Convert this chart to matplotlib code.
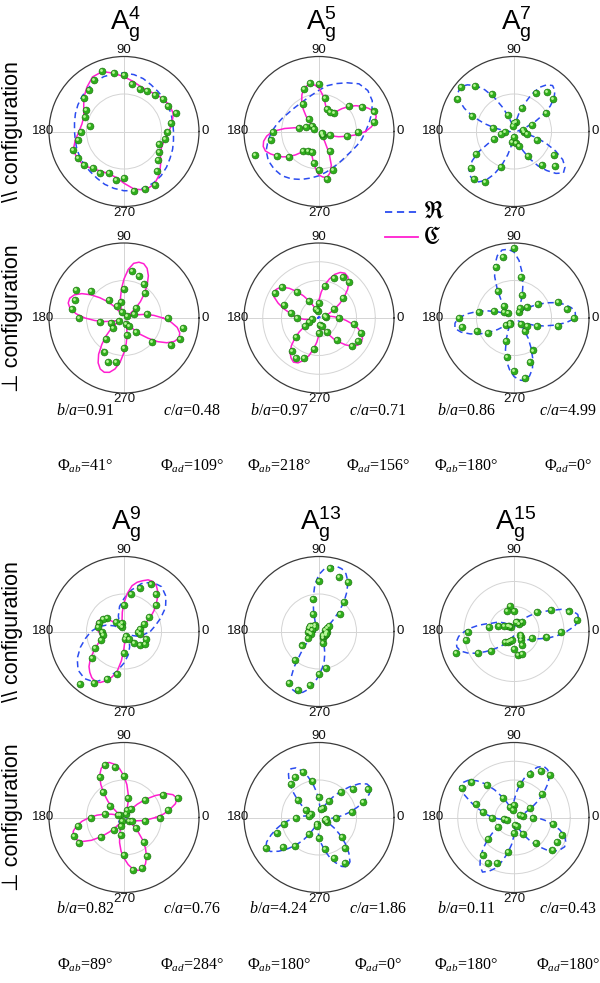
import matplotlib
matplotlib.use('Agg')
import matplotlib.pyplot as plt
import numpy as np
from matplotlib.lines import Line2D
from matplotlib.transforms import ScaledTranslation

plt.rcParams['mathtext.fontset'] = 'custom'
plt.rcParams['mathtext.rm'] = 'Liberation Serif'
plt.rcParams['mathtext.it'] = 'Liberation Serif:italic'
plt.rcParams['mathtext.bf'] = 'Liberation Serif:bold'
plt.rcParams['font.family'] = ['Liberation Sans', 'DejaVu Sans']

# ---------------- data ----------------
ANGLES_10 = list(range(0, 360, 10))         # measured points and coarse curve readings (deg)
ANGLES_5 = list(range(0, 360, 5))           # finer curve readings (deg)
TICK_ANGLES = [0, 90, 180, 270]
TICK_LABELS = ['0', '90', '180', '270']
MODE_LABELS = ['4', '5', '7', '9', '13', '15']
ROW_LABELS = ['\\\\ configuration', '\u22a5 configuration']
LEGEND_LABELS = [r'$\mathfrak{R}$', r'$\mathfrak{C}$']
B_OVER_A = [0.91, 0.97, 0.86, 0.82, 4.24, 0.11]
C_OVER_A = [0.48, 0.71, 4.99, 0.76, 1.86, 0.43]
PHI_AB = [41, 218, 180, 89, 180, 180]
PHI_AD = [109, 156, 0, 284, 0, 180]

# ---- A_g^4, parallel (10 deg) ----
A4_PAR_REAL = [0.66, 0.66, 0.67, 0.68, 0.69, 0.70, 0.72, 0.75, 0.77, 0.78, 0.78, 0.78, 0.77, 0.75, 0.73, 0.71, 0.69, 0.67,
               0.66, 0.66, 0.67, 0.68, 0.69, 0.70, 0.72, 0.75, 0.77, 0.79, 0.80, 0.80, 0.79, 0.77, 0.74, 0.71, 0.69, 0.67]
A4_PAR_CPLX = [0.60, 0.65, 0.70, 0.70, 0.68, 0.65, 0.63, 0.64, 0.68, 0.73, 0.79, 0.85, 0.84, 0.77, 0.70, 0.62, 0.57, 0.57,
               0.60, 0.66, 0.72, 0.72, 0.70, 0.65, 0.61, 0.60, 0.62, 0.69, 0.78, 0.83, 0.81, 0.74, 0.64, 0.56, 0.54, 0.56]
A4_PAR_DOTS = [0.58, 0.64, 0.74, 0.68, 0.68, 0.64, 0.62, 0.61, 0.64, 0.76, 0.79, 0.86, 0.80, 0.73, 0.70, 0.58, 0.55, 0.46,
               0.57, 0.62, 0.72, 0.71, 0.70, 0.64, 0.64, 0.59, 0.65, 0.62, 0.80, 0.82, 0.82, 0.68, 0.60, 0.54, 0.50, 0.55]

# ---- A_g^5, parallel (real 10 deg, complex 5 deg) ----
A5_PAR_REAL = [0.62, 0.68, 0.75, 0.82, 0.85, 0.83, 0.75, 0.68, 0.62, 0.55, 0.50, 0.47, 0.45, 0.45, 0.46, 0.48, 0.52, 0.57,
               0.63, 0.69, 0.75, 0.78, 0.78, 0.77, 0.73, 0.68, 0.63, 0.59, 0.55, 0.52, 0.50, 0.49, 0.49, 0.51, 0.54, 0.58]
A5_PAR_CPLX = [0.62, 0.70, 0.76, 0.79, 0.78, 0.73, 0.67, 0.60, 0.52, 0.43, 0.34, 0.30, 0.29, 0.29, 0.30, 0.35, 0.42, 0.50,
               0.58, 0.62, 0.64, 0.63, 0.60, 0.54, 0.46, 0.37, 0.27, 0.19, 0.12, 0.08, 0.05, 0.07, 0.12, 0.20, 0.30, 0.46,
               0.62, 0.70, 0.75, 0.77, 0.76, 0.71, 0.65, 0.59, 0.52, 0.44, 0.36, 0.31, 0.28, 0.28, 0.30, 0.35, 0.42, 0.50,
               0.58, 0.61, 0.62, 0.57, 0.48, 0.32, 0.15, 0.09, 0.06, 0.05, 0.05, 0.06, 0.08, 0.12, 0.17, 0.27, 0.37, 0.50]
A5_PAR_DOTS = [0.52, 0.75, 0.78, 0.66, 0.53, 0.32, 0.30, 0.32, 0.45, 0.64, 0.66, 0.60, 0.42, 0.21, 0.12, 0.07, 0.18, 0.27,
               0.61, 0.65, 0.91, 0.65, 0.53, 0.34, 0.30, 0.29, 0.42, 0.51, 0.64, 0.55, 0.30, 0.08, 0.05, 0.05, 0.15, 0.38]

# ---- A_g^7, parallel (5 deg) ----
A7_PAR_REAL = [0.05, 0.05, 0.06, 0.10, 0.18, 0.31, 0.45, 0.59, 0.70, 0.77, 0.80, 0.76, 0.68, 0.54, 0.38, 0.24, 0.12, 0.06,
               0.04, 0.04, 0.06, 0.11, 0.20, 0.35, 0.52, 0.68, 0.80, 0.88, 0.93, 0.91, 0.85, 0.73, 0.58, 0.41, 0.25, 0.13,
               0.06, 0.05, 0.05, 0.11, 0.22, 0.38, 0.55, 0.68, 0.78, 0.83, 0.85, 0.82, 0.75, 0.63, 0.48, 0.32, 0.18, 0.09,
               0.04, 0.04, 0.05, 0.09, 0.16, 0.28, 0.42, 0.56, 0.68, 0.79, 0.86, 0.83, 0.75, 0.61, 0.45, 0.30, 0.16, 0.09]
A7_PAR_DOTS = [0.13, 0.12, 0.25, 0.49, 0.68, 0.69, 0.59, 0.33, 0.13, 0.11, 0.08, 0.23, 0.58, 0.80, 0.93, 0.87, 0.59, 0.29,
               0.12, 0.18, 0.28, 0.59, 0.75, 0.82, 0.77, 0.50, 0.14, 0.07, 0.15, 0.20, 0.38, 0.58, 0.71, 0.62, 0.33, 0.18]

# ---- A_g^4, perpendicular (5 deg) ----
A4_PERP_CPLX = [0.52, 0.40, 0.28, 0.16, 0.08, 0.04, 0.04, 0.10, 0.20, 0.31, 0.42, 0.54, 0.65, 0.73, 0.77, 0.77, 0.74, 0.65,
                0.52, 0.39, 0.27, 0.17, 0.10, 0.05, 0.04, 0.10, 0.20, 0.31, 0.42, 0.54, 0.65, 0.73, 0.77, 0.77, 0.73, 0.64,
                0.52, 0.39, 0.27, 0.17, 0.10, 0.05, 0.04, 0.12, 0.23, 0.34, 0.46, 0.59, 0.69, 0.75, 0.77, 0.75, 0.69, 0.59,
                0.46, 0.34, 0.23, 0.14, 0.08, 0.05, 0.05, 0.11, 0.20, 0.31, 0.42, 0.55, 0.66, 0.74, 0.78, 0.77, 0.72, 0.63]
A4_PERP_DOTS = [0.59, 0.31, 0.14, 0.05, 0.21, 0.43, 0.53, 0.60, 0.64, 0.39, 0.22, 0.08, 0.19, 0.31, 0.57, 0.74, 0.70, 0.70,
                0.60, 0.33, 0.19, 0.07, 0.20, 0.37, 0.52, 0.62, 0.60, 0.40, 0.23, 0.08, 0.12, 0.25, 0.49, 0.73, 0.80, 0.80]

# ---- A_g^5, perpendicular (real 10 deg, complex 5 deg) ----
A5_PERP_REAL = [0.015, 0.012, 0.010, 0.012, 0.015, 0.018, 0.015, 0.012, 0.010, 0.012, 0.015, 0.018, 0.015, 0.012, 0.010, 0.012, 0.015, 0.018,
                0.015, 0.012, 0.010, 0.012, 0.015, 0.018, 0.015, 0.012, 0.010, 0.012, 0.015, 0.018, 0.015, 0.012, 0.010, 0.012, 0.015, 0.018]
A5_PERP_CPLX = [0.28, 0.20, 0.14, 0.10, 0.10, 0.16, 0.24, 0.34, 0.44, 0.54, 0.62, 0.67, 0.69, 0.67, 0.62, 0.54, 0.45, 0.35,
                0.24, 0.16, 0.10, 0.09, 0.12, 0.18, 0.26, 0.36, 0.46, 0.56, 0.64, 0.68, 0.70, 0.66, 0.58, 0.49, 0.40, 0.34,
                0.28, 0.20, 0.12, 0.09, 0.10, 0.15, 0.22, 0.32, 0.42, 0.52, 0.60, 0.65, 0.68, 0.66, 0.60, 0.52, 0.42, 0.32,
                0.22, 0.14, 0.09, 0.08, 0.12, 0.18, 0.25, 0.34, 0.42, 0.51, 0.58, 0.63, 0.65, 0.64, 0.60, 0.54, 0.45, 0.36]
A5_PERP_DOTS = [0.26, 0.10, 0.08, 0.23, 0.42, 0.62, 0.63, 0.57, 0.43, 0.20, 0.09, 0.13, 0.26, 0.46, 0.65, 0.68, 0.50, 0.38,
                0.30, 0.10, 0.14, 0.22, 0.40, 0.57, 0.62, 0.57, 0.42, 0.20, 0.09, 0.12, 0.22, 0.38, 0.58, 0.60, 0.60, 0.48]

# ---- A_g^7, perpendicular (5 deg) ----
A7_PERP_REAL = [0.82, 0.82, 0.78, 0.70, 0.60, 0.48, 0.36, 0.26, 0.18, 0.12, 0.08, 0.08, 0.12, 0.20, 0.32, 0.46, 0.62, 0.77,
                0.88, 0.92, 0.92, 0.86, 0.75, 0.61, 0.45, 0.31, 0.20, 0.12, 0.08, 0.07, 0.10, 0.16, 0.25, 0.37, 0.50, 0.63,
                0.74, 0.79, 0.80, 0.73, 0.62, 0.50, 0.38, 0.27, 0.17, 0.11, 0.07, 0.07, 0.10, 0.19, 0.30, 0.44, 0.58, 0.69,
                0.78, 0.83, 0.85, 0.80, 0.72, 0.59, 0.45, 0.33, 0.22, 0.14, 0.08, 0.07, 0.10, 0.17, 0.28, 0.41, 0.55, 0.70]
A7_PERP_DOTS = [0.80, 0.72, 0.62, 0.37, 0.22, 0.10, 0.15, 0.33, 0.56, 0.93, 0.82, 0.72, 0.42, 0.21, 0.10, 0.16, 0.29, 0.48,
                0.74, 0.71, 0.52, 0.40, 0.14, 0.08, 0.10, 0.32, 0.53, 0.71, 0.81, 0.62, 0.50, 0.23, 0.12, 0.20, 0.32, 0.60]

# ---- A_g^9, parallel (real 10 deg, complex 5 deg) ----
A9_PAR_REAL = [0.35, 0.42, 0.52, 0.64, 0.73, 0.78, 0.76, 0.68, 0.56, 0.44, 0.34, 0.22, 0.12, 0.06, 0.08, 0.15, 0.25, 0.35,
               0.44, 0.52, 0.62, 0.72, 0.80, 0.82, 0.78, 0.66, 0.54, 0.42, 0.32, 0.22, 0.14, 0.07, 0.06, 0.10, 0.18, 0.26]
A9_PAR_CPLX = [0.22, 0.23, 0.25, 0.27, 0.30, 0.35, 0.42, 0.49, 0.56, 0.63, 0.70, 0.75, 0.77, 0.76, 0.72, 0.68, 0.62, 0.51,
               0.38, 0.26, 0.15, 0.09, 0.05, 0.05, 0.06, 0.08, 0.11, 0.16, 0.22, 0.28, 0.33, 0.36, 0.38, 0.38, 0.37, 0.36,
               0.34, 0.32, 0.30, 0.31, 0.33, 0.38, 0.44, 0.51, 0.59, 0.66, 0.71, 0.75, 0.77, 0.75, 0.70, 0.63, 0.55, 0.39,
               0.22, 0.13, 0.08, 0.06, 0.06, 0.09, 0.13, 0.17, 0.22, 0.25, 0.28, 0.31, 0.33, 0.32, 0.30, 0.28, 0.25, 0.23]
A9_PAR_DOTS = [0.18, 0.22, 0.28, 0.39, 0.56, 0.66, 0.73, 0.62, 0.51, 0.36, 0.12, 0.06, 0.10, 0.16, 0.29, 0.33, 0.35, 0.35,
               0.30, 0.28, 0.33, 0.45, 0.55, 0.92, 0.80, 0.67, 0.57, 0.28, 0.10, 0.07, 0.12, 0.20, 0.28, 0.32, 0.31, 0.22]

# ---- A_g^13, parallel (5 deg) ----
A13_PAR_REAL = [0.05, 0.05, 0.06, 0.07, 0.08, 0.10, 0.12, 0.18, 0.26, 0.38, 0.52, 0.65, 0.77, 0.85, 0.89, 0.90, 0.87, 0.84,
                0.76, 0.63, 0.45, 0.28, 0.16, 0.11, 0.08, 0.07, 0.06, 0.05, 0.05, 0.05, 0.05, 0.05, 0.05, 0.05, 0.05, 0.05,
                0.05, 0.05, 0.06, 0.06, 0.07, 0.08, 0.10, 0.13, 0.18, 0.26, 0.38, 0.58, 0.78, 0.85, 0.87, 0.84, 0.78, 0.69,
                0.58, 0.49, 0.40, 0.30, 0.20, 0.15, 0.12, 0.10, 0.08, 0.07, 0.07, 0.06, 0.06, 0.05, 0.05, 0.05, 0.05, 0.05]
A13_PAR_DOTS = [0.10, 0.08, 0.12, 0.16, 0.36, 0.52, 0.76, 0.77, 0.86, 0.68, 0.44, 0.25, 0.10, 0.08, 0.12, 0.14, 0.14, 0.10,
                0.15, 0.12, 0.11, 0.17, 0.29, 0.50, 0.80, 0.83, 0.72, 0.57, 0.50, 0.16, 0.10, 0.08, 0.07, 0.10, 0.10, 0.09]

# ---- A_g^15, parallel (5 deg) ----
A15_PAR_REAL = [0.70, 0.81, 0.88, 0.88, 0.82, 0.70, 0.56, 0.46, 0.38, 0.30, 0.24, 0.19, 0.15, 0.12, 0.10, 0.08, 0.07, 0.06,
                0.06, 0.06, 0.06, 0.06, 0.07, 0.08, 0.09, 0.11, 0.13, 0.15, 0.18, 0.21, 0.25, 0.28, 0.32, 0.39, 0.48, 0.57,
                0.66, 0.74, 0.78, 0.79, 0.76, 0.68, 0.58, 0.47, 0.38, 0.30, 0.24, 0.19, 0.15, 0.12, 0.10, 0.08, 0.07, 0.06,
                0.06, 0.06, 0.06, 0.06, 0.07, 0.08, 0.09, 0.10, 0.12, 0.14, 0.16, 0.19, 0.22, 0.25, 0.29, 0.37, 0.48, 0.59]
A15_PAR_DOTS = [0.62, 0.85, 0.78, 0.57, 0.40, 0.17, 0.12, 0.13, 0.13, 0.28, 0.34, 0.29, 0.07, 0.10, 0.11, 0.15, 0.22, 0.34,
                0.62, 0.65, 0.82, 0.56, 0.40, 0.18, 0.16, 0.14, 0.12, 0.23, 0.32, 0.32, 0.21, 0.15, 0.12, 0.10, 0.26, 0.44]

# ---- A_g^9, perpendicular (real 10 deg, complex 5 deg) ----
A9_PERP_REAL = [0.02, 0.03, 0.05, 0.07, 0.09, 0.09, 0.07, 0.05, 0.03, 0.02, 0.03, 0.05, 0.07, 0.09, 0.09, 0.07, 0.05, 0.03,
                0.02, 0.03, 0.05, 0.07, 0.09, 0.09, 0.07, 0.05, 0.03, 0.02, 0.03, 0.05, 0.07, 0.09, 0.09, 0.07, 0.05, 0.03]
A9_PERP_CPLX = [0.42, 0.53, 0.62, 0.71, 0.75, 0.72, 0.64, 0.51, 0.38, 0.25, 0.14, 0.08, 0.05, 0.07, 0.12, 0.21, 0.32, 0.44,
                0.55, 0.65, 0.72, 0.76, 0.76, 0.72, 0.65, 0.54, 0.42, 0.30, 0.18, 0.10, 0.05, 0.06, 0.10, 0.17, 0.26, 0.36,
                0.46, 0.56, 0.64, 0.70, 0.72, 0.70, 0.64, 0.53, 0.40, 0.27, 0.16, 0.09, 0.05, 0.07, 0.12, 0.22, 0.34, 0.45,
                0.54, 0.63, 0.70, 0.73, 0.73, 0.68, 0.60, 0.50, 0.38, 0.26, 0.15, 0.08, 0.05, 0.07, 0.12, 0.17, 0.24, 0.32]
A9_PERP_DOTS = [0.48, 0.59, 0.76, 0.60, 0.37, 0.15, 0.06, 0.10, 0.27, 0.56, 0.69, 0.74, 0.63, 0.44, 0.24, 0.06, 0.09, 0.26,
                0.44, 0.62, 0.71, 0.69, 0.40, 0.21, 0.06, 0.12, 0.24, 0.50, 0.71, 0.71, 0.60, 0.42, 0.21, 0.08, 0.12, 0.29]

# ---- A_g^13, perpendicular (5 deg) ----
A13_PERP_REAL = [0.22, 0.32, 0.42, 0.53, 0.64, 0.74, 0.80, 0.78, 0.70, 0.58, 0.46, 0.35, 0.25, 0.17, 0.12, 0.10, 0.10, 0.14,
                 0.22, 0.33, 0.45, 0.56, 0.66, 0.73, 0.75, 0.71, 0.62, 0.50, 0.38, 0.28, 0.20, 0.15, 0.12, 0.12, 0.14, 0.21,
                 0.30, 0.40, 0.50, 0.59, 0.68, 0.77, 0.82, 0.79, 0.70, 0.59, 0.48, 0.37, 0.26, 0.16, 0.10, 0.09, 0.12, 0.18,
                 0.26, 0.35, 0.45, 0.55, 0.64, 0.72, 0.76, 0.72, 0.62, 0.50, 0.38, 0.26, 0.15, 0.10, 0.08, 0.09, 0.12, 0.16]
A13_PERP_DOTS = [0.23, 0.45, 0.62, 0.76, 0.60, 0.45, 0.26, 0.14, 0.12, 0.28, 0.50, 0.64, 0.63, 0.58, 0.36, 0.20, 0.12, 0.14,
                 0.31, 0.47, 0.60, 0.81, 0.62, 0.50, 0.26, 0.09, 0.12, 0.27, 0.43, 0.58, 0.70, 0.53, 0.40, 0.12, 0.08, 0.10]

# ---- A_g^15, perpendicular (5 deg) ----
A15_PERP_REAL = [0.30, 0.22, 0.15, 0.11, 0.10, 0.18, 0.28, 0.40, 0.52, 0.64, 0.74, 0.78, 0.79, 0.74, 0.66, 0.55, 0.44, 0.33,
                 0.22, 0.15, 0.10, 0.10, 0.14, 0.22, 0.32, 0.45, 0.58, 0.69, 0.78, 0.82, 0.83, 0.74, 0.62, 0.52, 0.42, 0.35,
                 0.28, 0.21, 0.14, 0.11, 0.10, 0.15, 0.22, 0.34, 0.46, 0.58, 0.70, 0.79, 0.84, 0.79, 0.72, 0.60, 0.48, 0.36,
                 0.24, 0.16, 0.10, 0.10, 0.12, 0.19, 0.28, 0.39, 0.50, 0.61, 0.70, 0.75, 0.78, 0.76, 0.72, 0.63, 0.52, 0.41]
A15_PERP_DOTS = [0.25, 0.12, 0.08, 0.25, 0.49, 0.74, 0.71, 0.62, 0.45, 0.17, 0.10, 0.15, 0.30, 0.56, 0.74, 0.80, 0.54, 0.42,
                 0.30, 0.13, 0.10, 0.25, 0.45, 0.65, 0.70, 0.65, 0.47, 0.21, 0.10, 0.12, 0.25, 0.45, 0.67, 0.66, 0.68, 0.53]

# panel table: (mode index, configuration row 0=par 1=perp, real curve, complex curve, dots, grid circles)
PANELS = [
    (0, 0, A4_PAR_REAL, A4_PAR_CPLX, A4_PAR_DOTS, [0.5]),
    (1, 0, A5_PAR_REAL, A5_PAR_CPLX, A5_PAR_DOTS, [0.5]),
    (2, 0, A7_PAR_REAL, None, A7_PAR_DOTS, [0.5]),
    (0, 1, None, A4_PERP_CPLX, A4_PERP_DOTS, [0.5]),
    (1, 1, A5_PERP_REAL, A5_PERP_CPLX, A5_PERP_DOTS, [0.25, 0.5, 0.75]),
    (2, 1, A7_PERP_REAL, None, A7_PERP_DOTS, [0.5]),
    (3, 0, A9_PAR_REAL, A9_PAR_CPLX, A9_PAR_DOTS, [0.5]),
    (4, 0, A13_PAR_REAL, None, A13_PAR_DOTS, [0.5]),
    (5, 0, A15_PAR_REAL, None, A15_PAR_DOTS, [1 / 3, 2 / 3]),
    (3, 1, A9_PERP_REAL, A9_PERP_CPLX, A9_PERP_DOTS, [0.5]),
    (4, 1, A13_PERP_REAL, None, A13_PERP_DOTS, [0.5]),
    (5, 1, A15_PERP_REAL, None, A15_PERP_DOTS, [0.25, 0.5, 0.75]),
]

# ---------------- layout ----------------
W, H = 600, 983
COL_X = [124, 319, 514]
ROW_Y = [131.5, 318, 631.5, 817.5]
RAD = 75
BA_X = [85, 279, 466]
CA_X = [192, 378, 568]
STAT_Y = [(411, 466), (909, 965)]
BLUE = '#2b4cf0'
MAGENTA = '#ff1fd0'
EDGE = '#3a3a3a'
GRIDC = '#d4d4d4'

fig = plt.figure(figsize=(W / 100, H / 100), dpi=100)


def fx(px):
    return px / W


def fy(py):
    return 1 - py / H


def closed(vals):
    grid = ANGLES_5 if len(vals) == len(ANGLES_5) else ANGLES_10
    th = np.deg2rad(grid + [360])
    return th, list(vals) + [vals[0]]


for mode, conf, real, cplx, dots, grid in PANELS:
    block, col = divmod(mode, 3)
    row = block * 2 + conf
    cx, cy = COL_X[col], ROW_Y[row]
    ax = fig.add_axes([fx(cx - RAD), fy(cy + RAD), 2 * RAD / W, 2 * RAD / H], projection='polar')
    ax.set_ylim(0, 1)
    ax.set_yticks(grid)
    ax.set_yticklabels([])
    ax.set_xticks(np.deg2rad(TICK_ANGLES))
    ax.set_xticklabels(TICK_LABELS, fontsize=9.5, color='#111111')
    ax.set_xticks(np.deg2rad([30, 60, 120, 150, 210, 240, 300, 330]), minor=True)
    ax.tick_params(axis='x', which='major', length=0, pad=-2.6)
    ax.tick_params(axis='x', which='minor', direction='in', length=2.5, width=0.7, color=EDGE)
    ax.tick_params(axis='y', length=0)
    ax.grid(True, which='major', color=GRIDC, lw=0.7)
    ax.spines['polar'].set_color(EDGE)
    ax.spines['polar'].set_linewidth(0.9)
    ax.set_facecolor('white')
    if real is not None:
        th, r = closed(real)
        ax.plot(th, r, color=BLUE, lw=1.1, dashes=(4, 2.6), zorder=3)
    if cplx is not None:
        th, r = closed(cplx)
        ax.plot(th, r, color=MAGENTA, lw=1.1, zorder=3)
    th = np.deg2rad(ANGLES_10)
    ax.scatter(th, dots, s=25, c='#2fae1c', edgecolors='#1b6d10', linewidths=0.4, zorder=5)
    hl = ax.transData + ScaledTranslation(-0.7 / 72, 0.7 / 72, fig.dpi_scale_trans)
    ax.scatter(th, dots, s=4, c='#b9f59a', linewidths=0, zorder=6, transform=hl)

# titles: A with subscript g and superscript mode number (one text object)
for mode, lab in enumerate(MODE_LABELS):
    block, col = divmod(mode, 3)
    base = ROW_Y[block * 2] - 101.5
    fig.text(fx(COL_X[col] + 2), fy(base), r'$\mathregular{A_g^{%s}}$' % lab,
             fontsize=20, ha='center', va='baseline', family='Liberation Sans')

# row labels
for row in range(4):
    fig.text(fx(13), fy(ROW_Y[row]), ROW_LABELS[row % 2], rotation=90, fontsize=15.5,
             ha='center', va='center', family=['Liberation Sans', 'DejaVu Sans'])

# parameter text
for mode in range(6):
    block, col = divmod(mode, 3)
    y1, y2 = STAT_Y[block]
    kw = dict(fontsize=11.5, ha='center', va='center', family='Liberation Serif')
    fig.text(fx(BA_X[col]), fy(y1), r'$b/a$=%.2f' % B_OVER_A[mode], **kw)
    fig.text(fx(CA_X[col]), fy(y1), r'$c/a$=%.2f' % C_OVER_A[mode], **kw)
    fig.text(fx(BA_X[col]), fy(y2), '\u03a6$_{ab}$=%d\u00b0' % PHI_AB[mode], **kw)
    fig.text(fx(CA_X[col]), fy(y2), '\u03a6$_{ad}$=%d\u00b0' % PHI_AD[mode], **kw)

# legend
for i, (col_, ls) in enumerate([(BLUE, (0, (4, 2.6))), (MAGENTA, '-')]):
    y = 212 + 25 * i
    fig.add_artist(Line2D([fx(385), fx(418)], [fy(y), fy(y)], color=col_, lw=1.3, linestyle=ls))
    fig.text(fx(423), fy(y), LEGEND_LABELS[i], fontsize=17, ha='left', va='center', math_fontfamily='stix')

fig.savefig('out.png', dpi=100, facecolor='white')
